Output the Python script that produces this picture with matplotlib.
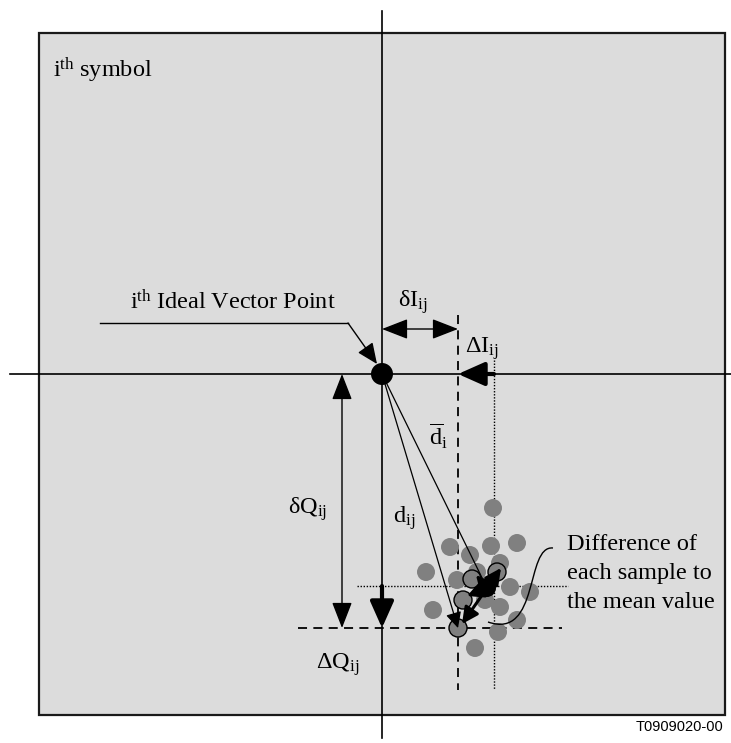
import matplotlib
matplotlib.use("Agg")
import matplotlib.pyplot as plt
from matplotlib.patches import Circle, Rectangle, PathPatch
from matplotlib.path import Path

plt.rcParams['font.family'] = ['Liberation Serif', 'DejaVu Serif']
plt.rcParams['mathtext.fontset'] = 'custom'
plt.rcParams['mathtext.rm'] = 'Liberation Serif'
plt.rcParams['mathtext.it'] = 'Liberation Serif:italic'

# I/Q plane, ideal vector point at the origin (units ~ pixels)
ideal = (0, 0)
sample_j = (76, -254)          # the j-th sample (dashed cross-hair)
mean_pt = (105, -214)          # mean of the samples
mean_lines = (112, -212)       # dotted cross-hair through the mean

# grey samples
samp_i = [111, 135, 109, 68, 88, 118, 44, 75, 95, 128, 148, 103, 118, 51, 135, 116, 93]
samp_q = [-134, -169, -172, -173, -181, -189, -198, -206, -198, -213, -218, -226, -233, -236, -246, -258, -274]
# samples with their difference vector drawn
out_i = [90, 115, 81, 76]
out_q = [-205, -198, -226, -254]

fig = plt.figure(figsize=(7.31, 7.43), dpi=100)
ax = fig.add_axes([0, 0, 1, 1])
ax.set_xlim(-382, 349)
ax.set_ylim(-369, 374)
ax.axis('off')

# shaded box
ax.add_patch(Rectangle((-343, -341), 686, 682, facecolor='#dcdcdc',
                       edgecolor='#1a1a1a', lw=1.6, zorder=0))

# I and Q axes
ax.plot([-372, 349], [0, 0], color='k', lw=1.2, zorder=2)
ax.plot([0, 0], [-364, 363], color='k', lw=1.2, zorder=2)

# dashed cross-hair at sample j
ax.plot([sample_j[0], sample_j[0]], [59, -316], color='k', lw=1.3,
        ls=(0, (5, 3.5)), zorder=2)
ax.plot([-84, 180], [sample_j[1], sample_j[1]], color='k', lw=1.3,
        ls=(0, (5, 3.5)), zorder=2)
# dotted cross-hair at mean
ax.plot([mean_lines[0], mean_lines[0]], [14, -316], color='k', lw=1.0,
        ls=(0, (1, 1.2)), zorder=2)
ax.plot([-25, 186], [mean_lines[1], mean_lines[1]], color='k', lw=1.0,
        ls=(0, (1, 1.2)), zorder=2)


def arrow(p0, p1, style='-|>', lw=0.9, ms=14, z=5):
    ax.annotate('', xy=p1, xytext=p0,
                arrowprops=dict(arrowstyle=style, color='k', lw=lw,
                                mutation_scale=ms, shrinkA=0, shrinkB=0),
                zorder=z)


# samples
for x, y in zip(samp_i, samp_q):
    ax.add_patch(Circle((x, y), 9, facecolor='#808080', edgecolor='none', zorder=3))
for x, y in zip(out_i, out_q):
    ax.add_patch(Circle((x, y), 9, facecolor='#808080', edgecolor='k', lw=1.0, zorder=3.5))

# vectors from the ideal point
arrow(ideal, sample_j, style='-|>,head_length=0.6,head_width=0.3', lw=0.9, ms=16, z=4)
ax.plot([ideal[0], mean_pt[0]], [ideal[1], mean_pt[1]], color='k', lw=0.9, zorder=4)

# difference of each sample to the mean
for x, y in zip(out_i, out_q):
    arrow(mean_pt, (x + 4, y + 4), style='-|>,head_length=0.7,head_width=0.35',
          lw=2.2, ms=14, z=6)

ax.add_patch(Circle(mean_pt, 9, facecolor='k', zorder=7))
ax.add_patch(Circle(ideal, 11, facecolor='k', zorder=7))

# delta I / delta Q
arrow((0, 45), (sample_j[0], 45), style='<|-|>,head_length=0.9,head_width=0.35', lw=1.0, ms=18)
arrow((-40, 0), (-40, sample_j[1]), style='<|-|>,head_length=0.9,head_width=0.35', lw=1.0, ms=18)
arrow((mean_lines[0], 0), (sample_j[0], 0), style='-|>,head_length=0.9,head_width=0.4', lw=3.0, ms=18)
arrow((0, mean_lines[1]), (0, sample_j[1]), style='-|>,head_length=0.9,head_width=0.4', lw=3.0, ms=18)

# leader to ideal point
ax.plot([-282, -34], [51, 51], color='k', lw=1.0, zorder=4)
arrow((-34, 51), (-5, 10), style='-|>,head_length=0.8,head_width=0.35', lw=1.0, ms=16)

# curved leader for the difference note
curve = Path([(171, -174), (143, -171), (158, -266), (106, -248)],
             [Path.MOVETO, Path.CURVE4, Path.CURVE4, Path.CURVE4])
ax.add_patch(PathPatch(curve, facecolor='none', edgecolor='k', lw=1.0, zorder=6))

fs = 17.5
ax.text(-329, 304, r'$\mathrm{i^{th}\ symbol}$', fontsize=fs, va='center', ha='left')
ax.text(-149, 72, r'$\mathrm{i^{th}\ Ideal\ Vector\ Point}$', fontsize=fs, va='center', ha='center')
ax.text(31, 72, r'$\mathrm{δI_{ij}}$', fontsize=fs, va='center', ha='center')
ax.text(100, 25, r'$\mathrm{ΔI_{ij}}$', fontsize=fs, va='center', ha='center')
ax.text(56, -62, r'$\overline{\mathrm{d}}_\mathrm{i}$', fontsize=fs, va='center', ha='center')
ax.text(22, -144, r'$\mathrm{d_{ij}}$', fontsize=fs, va='center', ha='center')
ax.text(-74, -135, r'$\mathrm{δQ_{ij}}$', fontsize=fs, va='center', ha='center')
ax.text(-44, -291, r'$\mathrm{ΔQ_{ij}}$', fontsize=fs, va='center', ha='center')

note_lines = ['Difference of', 'each sample to', 'the mean value']
note_q = [-171, -199, -228]
for s, q in zip(note_lines, note_q):
    ax.text(185, q, s, fontsize=fs, va='center', ha='left')

ax.text(341, -353, 'T0909020-00', fontsize=10.5, family='Liberation Sans',
        va='center', ha='right')

fig.savefig('out.png', dpi=100)
